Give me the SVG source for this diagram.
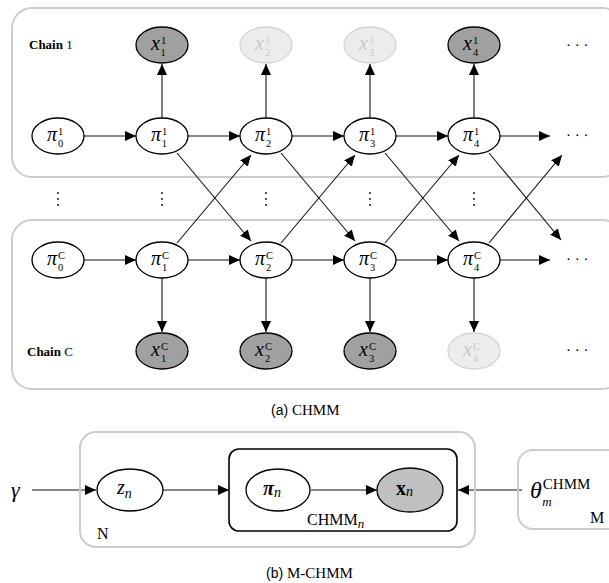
<svg xmlns="http://www.w3.org/2000/svg" width="609" height="583" viewBox="0 0 609 583">
<defs>
<marker id="ah" markerUnits="userSpaceOnUse" markerWidth="12" markerHeight="10" refX="11" refY="5" orient="auto">
<path d="M0,0 L11,5 L0,10 Z" fill="#000"/>
</marker>
<style>
.plate{fill:none;stroke:#cccccc;stroke-width:2}
.node{fill:#fff;stroke:#000;stroke-width:1.3}
.obs{fill:#a0a0a0;stroke:#000;stroke-width:1.3}
.obs2{fill:#c0c0c0;stroke:#000;stroke-width:1.3}
.fade{fill:#ececec;stroke:#d4d4d4;stroke-width:1.3}
.e{fill:none;stroke:#111;stroke-width:1.1;marker-end:url(#ah)}
.m{font-family:"Liberation Serif",serif;font-style:italic;font-size:20px;fill:#000}
.s{font-family:"Liberation Serif",serif;font-style:normal;font-size:10.5px}
.r{font-family:"Liberation Serif",serif;font-size:15px;fill:#000}
.b{font-family:"Liberation Serif",serif;font-weight:bold;font-size:13px;fill:#000}
.cap{font-family:"Liberation Sans",sans-serif;font-size:14px;fill:#000}
.capr{font-family:"Liberation Serif",serif;font-size:15px;fill:#000}
.ft{fill:#c8c8c8}
.dots{font-family:"Liberation Serif",serif;font-size:15px;fill:#000}
</style>
</defs>

<rect class="plate" x="12" y="8" width="610" height="169" rx="20"/>
<rect class="plate" x="12" y="220" width="610" height="169" rx="20"/>

<g id="labels">
<text x="29" y="49"><tspan class="b">Chain</tspan><tspan class="r" style="font-size:13px"> 1</tspan></text>
<text x="27" y="356"><tspan class="b">Chain</tspan><tspan class="r" style="font-size:13px"> C</tspan></text>
<text class="dots" x="566" y="50">· · ·</text>
<text class="dots" x="566" y="140">· · ·</text>
<text class="dots" x="566" y="264">· · ·</text>
<text class="dots" x="566" y="355">· · ·</text>
<g fill="#000">
<circle cx="58" cy="193" r="0.9"/><circle cx="58" cy="199" r="0.9"/><circle cx="58" cy="205" r="0.9"/>
<circle cx="162" cy="193" r="0.9"/><circle cx="162" cy="199" r="0.9"/><circle cx="162" cy="205" r="0.9"/>
<circle cx="266" cy="193" r="0.9"/><circle cx="266" cy="199" r="0.9"/><circle cx="266" cy="205" r="0.9"/>
<circle cx="370" cy="193" r="0.9"/><circle cx="370" cy="199" r="0.9"/><circle cx="370" cy="205" r="0.9"/>
<circle cx="474" cy="193" r="0.9"/><circle cx="474" cy="199" r="0.9"/><circle cx="474" cy="205" r="0.9"/>
</g>
</g>

<g id="connectors">
<line class="e" x1="84" y1="136" x2="136" y2="136"/>
<line class="e" x1="188" y1="136" x2="240" y2="136"/>
<line class="e" x1="292" y1="136" x2="344" y2="136"/>
<line class="e" x1="396" y1="136" x2="448" y2="136"/>
<line class="e" x1="500" y1="136" x2="550" y2="136"/>
<line class="e" x1="84" y1="260" x2="136" y2="260"/>
<line class="e" x1="188" y1="260" x2="240" y2="260"/>
<line class="e" x1="292" y1="260" x2="344" y2="260"/>
<line class="e" x1="396" y1="260" x2="448" y2="260"/>
<line class="e" x1="500" y1="260" x2="550" y2="260"/>
<line class="e" x1="162" y1="118" x2="162" y2="64"/>
<line class="e" x1="266" y1="118" x2="266" y2="64"/>
<line class="e" x1="370" y1="118" x2="370" y2="64"/>
<line class="e" x1="474" y1="118" x2="474" y2="64"/>
<line class="e" x1="162" y1="278" x2="162" y2="332"/>
<line class="e" x1="266" y1="278" x2="266" y2="332"/>
<line class="e" x1="370" y1="278" x2="370" y2="332"/>
<line class="e" x1="474" y1="278" x2="474" y2="332"/>
<line class="e" x1="177" y1="153" x2="251" y2="241"/>
<line class="e" x1="281" y1="153" x2="355" y2="241"/>
<line class="e" x1="385" y1="153" x2="459" y2="241"/>
<line class="e" x1="489" y1="153" x2="561" y2="240"/>
<line class="e" x1="177" y1="243" x2="251" y2="155"/>
<line class="e" x1="281" y1="243" x2="355" y2="155"/>
<line class="e" x1="385" y1="243" x2="459" y2="155"/>
<line class="e" x1="489" y1="243" x2="562" y2="155"/>
<line class="e" x1="32" y1="490" x2="96" y2="490"/>
<line class="e" x1="163" y1="490" x2="229" y2="490"/>
<line class="e" x1="311" y1="490" x2="377" y2="490"/>
<line class="e" x1="522" y1="490" x2="458" y2="490"/>
</g>

<g id="x11"><ellipse class="obs" cx="162" cy="45" rx="26" ry="18"/><text class="m" x="151" y="50">x<tspan class="s" dx="1" dy="-6">1</tspan><tspan class="s" dx="-5.25" dy="12">1</tspan></text></g>
<g id="x21"><ellipse class="fade" cx="266" cy="45" rx="26" ry="18"/><text class="m ft" x="255" y="50">x<tspan class="s" dx="1" dy="-6">1</tspan><tspan class="s" dx="-5.25" dy="12">2</tspan></text></g>
<g id="x31"><ellipse class="fade" cx="370" cy="45" rx="26" ry="18"/><text class="m ft" x="359" y="50">x<tspan class="s" dx="1" dy="-6">1</tspan><tspan class="s" dx="-5.25" dy="12">3</tspan></text></g>
<g id="x41"><ellipse class="obs" cx="474" cy="45" rx="26" ry="18"/><text class="m" x="463" y="50">x<tspan class="s" dx="1" dy="-6">1</tspan><tspan class="s" dx="-5.25" dy="12">4</tspan></text></g>

<g id="p01"><ellipse class="node" cx="58" cy="136" rx="26" ry="18"/><text class="m" x="47" y="141">π<tspan class="s" dx="1" dy="-6">1</tspan><tspan class="s" dx="-5.25" dy="12">0</tspan></text></g>
<g id="p11"><ellipse class="node" cx="162" cy="136" rx="26" ry="18"/><text class="m" x="151" y="141">π<tspan class="s" dx="1" dy="-6">1</tspan><tspan class="s" dx="-5.25" dy="12">1</tspan></text></g>
<g id="p21"><ellipse class="node" cx="266" cy="136" rx="26" ry="18"/><text class="m" x="255" y="141">π<tspan class="s" dx="1" dy="-6">1</tspan><tspan class="s" dx="-5.25" dy="12">2</tspan></text></g>
<g id="p31"><ellipse class="node" cx="370" cy="136" rx="26" ry="18"/><text class="m" x="359" y="141">π<tspan class="s" dx="1" dy="-6">1</tspan><tspan class="s" dx="-5.25" dy="12">3</tspan></text></g>
<g id="p41"><ellipse class="node" cx="474" cy="136" rx="26" ry="18"/><text class="m" x="463" y="141">π<tspan class="s" dx="1" dy="-6">1</tspan><tspan class="s" dx="-5.25" dy="12">4</tspan></text></g>

<g id="p0C"><ellipse class="node" cx="58" cy="260" rx="26" ry="18"/><text class="m" x="47" y="265">π<tspan class="s" dx="1" dy="-6">C</tspan><tspan class="s" dx="-7" dy="12">0</tspan></text></g>
<g id="p1C"><ellipse class="node" cx="162" cy="260" rx="26" ry="18"/><text class="m" x="151" y="265">π<tspan class="s" dx="1" dy="-6">C</tspan><tspan class="s" dx="-7" dy="12">1</tspan></text></g>
<g id="p2C"><ellipse class="node" cx="266" cy="260" rx="26" ry="18"/><text class="m" x="255" y="265">π<tspan class="s" dx="1" dy="-6">C</tspan><tspan class="s" dx="-7" dy="12">2</tspan></text></g>
<g id="p3C"><ellipse class="node" cx="370" cy="260" rx="26" ry="18"/><text class="m" x="359" y="265">π<tspan class="s" dx="1" dy="-6">C</tspan><tspan class="s" dx="-7" dy="12">3</tspan></text></g>
<g id="p4C"><ellipse class="node" cx="474" cy="260" rx="26" ry="18"/><text class="m" x="463" y="265">π<tspan class="s" dx="1" dy="-6">C</tspan><tspan class="s" dx="-7" dy="12">4</tspan></text></g>

<g id="x1C"><ellipse class="obs" cx="162" cy="351" rx="26" ry="18"/><text class="m" x="151" y="356">x<tspan class="s" dx="1" dy="-6">C</tspan><tspan class="s" dx="-7" dy="12">1</tspan></text></g>
<g id="x2C"><ellipse class="obs" cx="266" cy="351" rx="26" ry="18"/><text class="m" x="255" y="356">x<tspan class="s" dx="1" dy="-6">C</tspan><tspan class="s" dx="-7" dy="12">2</tspan></text></g>
<g id="x3C"><ellipse class="obs" cx="370" cy="351" rx="26" ry="18"/><text class="m" x="359" y="356">x<tspan class="s" dx="1" dy="-6">C</tspan><tspan class="s" dx="-7" dy="12">3</tspan></text></g>
<g id="x4C"><ellipse class="fade" cx="474" cy="351" rx="26" ry="18"/><text class="m ft" x="463" y="356">x<tspan class="s" dx="1" dy="-6">C</tspan><tspan class="s" dx="-7" dy="12">4</tspan></text></g>

<text x="271" y="415"><tspan class="cap">(a) </tspan><tspan class="capr">CHMM</tspan></text>

<g id="plateN"><rect class="plate" x="80" y="432" width="395" height="115" rx="16"/><text class="r" x="97" y="539" style="font-size:16px">N</text></g>
<g id="chmmbox"><rect x="229" y="449" width="228" height="82" rx="10" fill="none" stroke="#000" stroke-width="1.6"/><text class="r" x="307" y="525" style="font-size:16px">CHMM<tspan dy="3" style="font-style:italic;font-size:13px">n</tspan></text></g>
<g id="gamma"><text class="m" x="11" y="497" style="font-size:22px">γ</text></g>
<g id="zn"><ellipse class="node" cx="130" cy="490" rx="33" ry="21"/><text class="m" x="117" y="494">z<tspan dy="4" style="font-size:14px">n</tspan></text></g>
<g id="pin"><ellipse class="node" cx="278" cy="490" rx="32" ry="21"/><text class="m" x="263" y="495" style="font-weight:bold">π<tspan dy="2" style="font-size:14px;font-weight:normal">n</tspan></text></g>
<g id="xn"><ellipse class="obs2" cx="410" cy="490" rx="33" ry="22"/><text class="r" x="396" y="495" style="font-weight:bold;font-size:20px">x<tspan dy="1" style="font-style:italic;font-size:14px;font-weight:normal">n</tspan></text></g>
<g id="plateM"><rect class="plate" x="518" y="450" width="110" height="79" rx="15"/><text class="m" x="530" y="498" style="font-size:24px">θ<tspan class="s" dx="1" dy="-9" style="font-size:15px">CHMM</tspan><tspan dx="-48" dy="17" style="font-size:13px">m</tspan></text><text class="r" x="590" y="523" style="font-size:16px">M</text></g>

<text x="266" y="578"><tspan class="cap">(b) </tspan><tspan class="capr">M-CHMM</tspan></text>
</svg>
